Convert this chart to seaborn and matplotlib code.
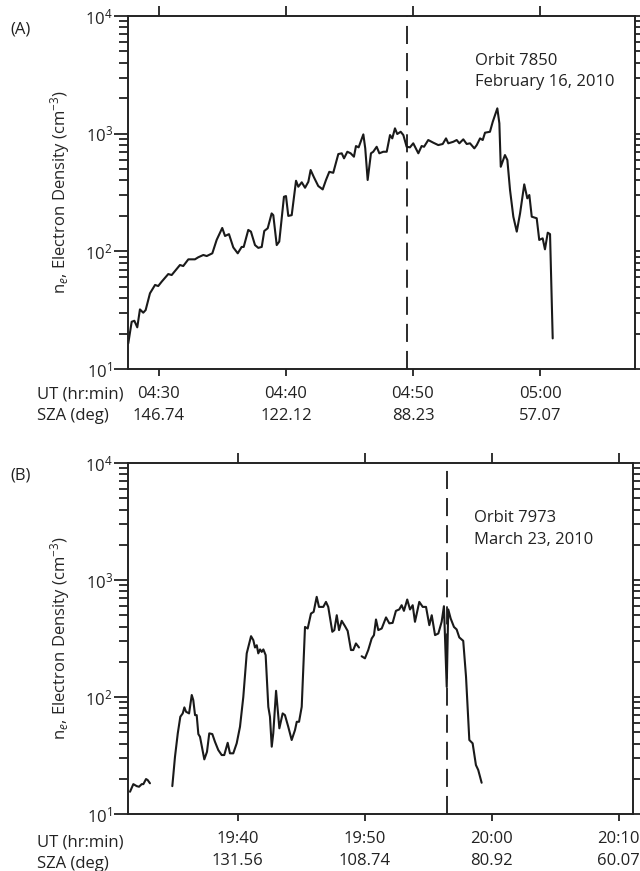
import numpy as np
import pandas as pd
import matplotlib
matplotlib.use("Agg")
import matplotlib.pyplot as plt
import seaborn as sns
from matplotlib.ticker import LogLocator, FixedLocator, NullFormatter, LogFormatterSciNotation

# ---------------- data ----------------
# Panel A: Orbit 7850, time in minutes after 04:00 UT
a_time = [27.58, 27.85, 28.06, 28.29, 28.50, 28.76, 28.95, 29.29, 29.69, 29.94,
          30.21, 30.73, 31.00, 31.65, 31.91, 32.31, 32.83, 33.09, 33.49, 33.76,
          34.20, 34.54, 34.98, 35.20, 35.51, 35.85, 36.20, 36.51, 36.67, 37.03,
          37.24, 37.56, 37.82, 38.09, 38.29, 38.56, 38.87, 39.00, 39.27, 39.47,
          39.84, 40.00, 40.18, 40.45, 40.79, 40.97, 41.24, 41.50, 41.76, 41.94,
          42.20, 42.54, 42.89, 43.15, 43.41, 43.72, 44.12, 44.39, 44.57, 44.83,
          45.09, 45.35, 45.51, 45.72, 46.09, 46.24, 46.43, 46.69, 46.87, 47.14,
          47.35, 47.66, 47.93, 48.19, 48.37, 48.58, 48.76, 49.03, 49.24, 49.50,
          49.76, 50.02, 50.42, 50.68, 50.87, 51.20, 51.60, 51.99, 52.34, 52.60,
          52.78, 53.17, 53.44, 53.65, 53.96, 54.23, 54.49, 54.83, 55.02, 55.28,
          55.49, 55.67, 56.06, 56.28, 56.64, 56.80, 56.91, 57.24, 57.43, 57.64,
          57.90, 58.17, 58.43, 58.76, 59.00, 59.16, 59.35, 59.74, 59.94, 60.21,
          60.39, 60.61, 60.79, 61.00]
a_ne = [16.5, 25.2, 25.7, 22.6, 32.1, 30.1, 31.7, 44.0, 51.8, 50.7,
        55.2, 64.1, 62.9, 76.5, 75.0, 85.5, 85.5, 89.0, 93.1, 91.2,
        96.2, 125, 158, 135, 140, 108, 96.2, 109, 109, 152,
        147, 113, 107, 109, 149, 157, 210, 203, 113, 121,
        291, 295, 200, 203, 398, 354, 386, 347, 390, 491,
        426, 359, 336, 404, 474, 465, 671, 681, 617, 702,
        681, 637, 785, 765, 986, 750, 404, 681, 702, 774,
        681, 702, 702, 973, 912, 1110, 993, 1038, 973, 774,
        765, 828, 681, 785, 774, 883, 838, 800, 817, 912,
        828, 853, 883, 828, 895, 817, 828, 750, 800, 912,
        883, 1019, 1038, 1262, 1641, 1225, 523, 658, 597, 332,
        197, 147, 210, 371, 282, 301, 197, 191, 125, 129,
        104, 144, 140, 18.2]

# Panel B: Orbit 7973, time in minutes after 19:00 UT (three segments with gaps)
b_time_1 = [31.52, 31.78, 32.05, 32.23, 32.44, 32.57, 32.78, 32.91, 33.09]
b_ne_1 = [15.5, 18.0, 17.3, 17.1, 18.0, 18.0, 19.9, 19.5, 18.3]

b_time_2 = [34.85, 35.06, 35.28, 35.48, 35.67, 35.80, 35.93, 36.17, 36.38, 36.50,
            36.64, 36.77, 36.90, 37.03, 37.37, 37.58, 37.76, 38.00, 38.21, 38.47,
            38.74, 38.94, 39.21, 39.39, 39.65, 39.92, 40.18, 40.44, 40.71, 41.05,
            41.23, 41.36, 41.50, 41.62, 41.76, 41.89, 42.02, 42.20, 42.41, 42.54,
            42.68, 42.80, 43.02, 43.28, 43.54, 43.72, 43.98, 44.25, 44.51, 44.65,
            44.83, 45.04, 45.30, 45.51, 45.77, 45.98, 46.22, 46.40, 46.74, 46.95,
            47.13, 47.45, 47.61, 47.80, 47.98, 48.19, 48.45, 48.66, 48.92, 49.10,
            49.31, 49.55]
b_ne_2 = [17.3, 30.8, 48.9, 67.8, 72.4, 81.5, 74.8, 72.4, 104, 94.2,
          70.0, 70.0, 48.2, 45.7, 29.3, 34.0, 48.9, 48.2, 41.4, 35.2,
          31.9, 31.9, 40.6, 33.0, 33.0, 40.2, 55.7, 100, 236, 331,
          306, 265, 277, 236, 255, 243, 255, 228, 82.4, 67.8,
          37.6, 48.9, 113, 54.0, 72.4, 70.0, 55.7, 42.9, 52.1, 61.4,
          61.4, 82.4, 397, 385, 517, 534, 718, 589, 589, 650,
          589, 361, 373, 500, 373, 448, 403, 367, 252, 252,
          287, 265]

b_time_3 = [49.76, 50.02, 50.28, 50.55, 50.73, 50.89, 51.07, 51.34, 51.68, 51.94,
            52.20, 52.46, 52.72, 52.91, 53.09, 53.35, 53.57, 53.78, 53.96, 54.30,
            54.57, 54.83, 55.09, 55.28, 55.54, 55.80, 56.06, 56.24, 56.46, 56.58,
            56.77, 57.03, 57.24, 57.45, 57.76, 57.98, 58.24, 58.50, 58.76, 58.94,
            59.21]
b_ne_3 = [223, 214, 252, 316, 338, 460, 373, 385, 479, 426,
          430, 545, 560, 609, 545, 681, 560, 609, 439, 650,
          589, 589, 411, 500, 338, 349, 439, 597, 122, 560,
          469, 397, 378, 323, 302, 149, 42.9, 40.2, 26.2, 23.8,
          18.5]

# axis tick definitions
a_tick_min = [30, 40, 50, 60]
a_ut = ["04:30", "04:40", "04:50", "05:00"]
a_sza = ["146.74", "122.12", "88.23", "57.07"]
b_tick_min = [40, 50, 60, 70]
b_ut = ["19:40", "19:50", "20:00", "20:10"]
b_sza = ["131.56", "108.74", "80.92", "60.07"]

a_terminator = 49.55
b_terminator = 56.48
a_title = ["Orbit 7850", "February 16, 2010"]
b_title = ["Orbit 7973", "March 23, 2010"]

# ---------------- style ----------------
sns.set_theme(style="ticks")
plt.rcParams['font.family'] = ['Open Sans', 'DejaVu Sans']
plt.rcParams['mathtext.fontset'] = 'custom'
plt.rcParams['mathtext.rm'] = 'Open Sans'
plt.rcParams['mathtext.it'] = 'Open Sans:italic'
plt.rcParams['mathtext.bf'] = 'Open Sans:bold'
plt.rcParams['axes.edgecolor'] = '#222222'
plt.rcParams['text.color'] = '#222222'
plt.rcParams['xtick.color'] = '#222222'
plt.rcParams['ytick.color'] = '#222222'

FS = 12

fig = plt.figure(figsize=(6.4, 8.71), dpi=100)
W, H = 640.0, 871.0

def px_axes(l, t, r, b):
    return fig.add_axes([l / W, 1 - b / H, (r - l) / W, (b - t) / H])

axA = px_axes(128, 16, 635, 369)
axB = px_axes(128, 463, 633, 814)

dfA = pd.DataFrame({"t": a_time, "ne": a_ne, "seg": 0})
dfB = pd.concat([
    pd.DataFrame({"t": b_time_1, "ne": b_ne_1, "seg": 1}),
    pd.DataFrame({"t": b_time_2, "ne": b_ne_2, "seg": 2}),
    pd.DataFrame({"t": b_time_3, "ne": b_ne_3, "seg": 3}),
], ignore_index=True)

def style_axes(ax, df, xlim, ticks, ut, sza, term, title, letter, letter_y, title_y):
    sns.lineplot(data=df, x="t", y="ne", units="seg", estimator=None,
                 color="#1a1a1a", lw=1.5, ax=ax, legend=False, sort=False)
    ax.set_yscale("log")
    ax.set_ylim(10, 1e4)
    ax.set_xlim(*xlim)
    ax.axvline(term, color="#1a1a1a", lw=1.3, linestyle=(0, (10, 5)))
    for s in ax.spines.values():
        s.set_visible(True)
        s.set_linewidth(1.4)
    ax.xaxis.set_major_locator(FixedLocator(ticks))
    ax.set_xticklabels([f"{u}\n{s}" for u, s in zip(ut, sza)])
    ax.yaxis.set_major_locator(LogLocator(base=10, numticks=10))
    ax.yaxis.set_minor_locator(LogLocator(base=10, subs=np.arange(2, 10), numticks=20))
    ax.yaxis.set_minor_formatter(NullFormatter())
    ax.yaxis.set_major_formatter(LogFormatterSciNotation())
    ax.tick_params(axis="x", which="major", direction="out", top=True, bottom=True,
                   length=5, width=1.3, labelsize=FS, pad=7)
    ax.tick_params(axis="y", which="major", direction="out", left=True, right=True,
                   length=10, width=1.3, labelsize=FS, pad=1)
    ax.tick_params(axis="y", which="minor", direction="out", left=True, right=True,
                   length=6.5, width=1.3)
    for tk in ax.xaxis.get_major_ticks():
        tk.tick2line.set_markersize(7)
    for lab in ax.get_xticklabels():
        lab.set_linespacing(1.5)
    ax.set_xlabel("")
    ax.set_ylabel("n$_e$, Electron Density (cm$^{-3}$)", fontsize=FS)
    ax.yaxis.set_label_coords(-0.11, 0.5)
    ax.text(0.685, title_y, title[0] + "\n" + title[1], transform=ax.transAxes,
            fontsize=FS, ha="left", va="top", linespacing=1.45)
    fig.text(10 / W, letter_y, letter, fontsize=FS, ha="left", va="center")

style_axes(axA, dfA, (27.56, 67.48), a_tick_min, a_ut, a_sza, a_terminator,
           a_title, "(A)", 1 - 30 / H, 0.895)
style_axes(axB, dfB, (31.36, 71.13), b_tick_min, b_ut, b_sza, b_terminator,
           b_title, "(B)", 1 - 475 / H, 0.865)

fig.text(37 / W, 1 - 386 / H, "UT (hr:min)\nSZA (deg)", fontsize=FS, ha="left",
         va="top", linespacing=1.5)
fig.text(37 / W, 1 - 834 / H, "UT (hr:min)\nSZA (deg)", fontsize=FS, ha="left",
         va="top", linespacing=1.5)

fig.savefig("out.png", dpi=100)
